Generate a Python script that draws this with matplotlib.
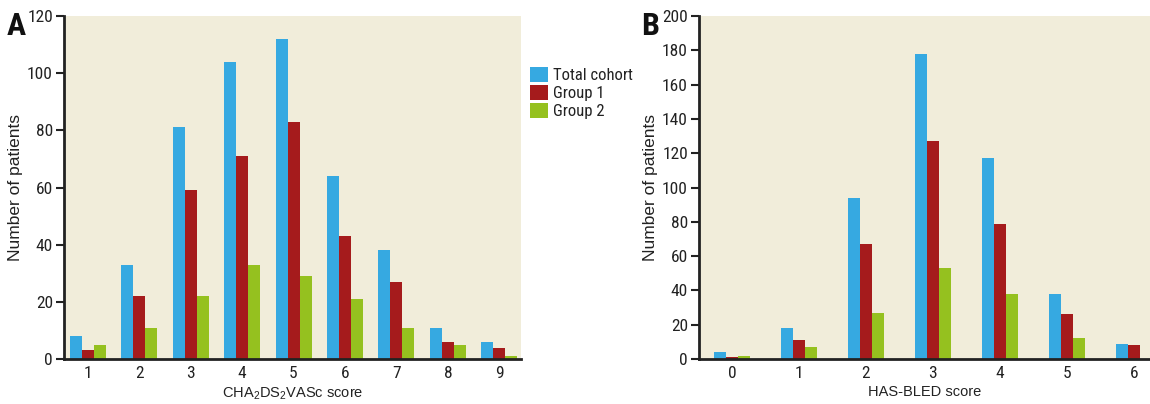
import matplotlib
matplotlib.use("Agg")
import matplotlib.pyplot as plt
from matplotlib import font_manager
import numpy as np

# ---- data ----
cha_scores = [1, 2, 3, 4, 5, 6, 7, 8, 9]
cha_total = [8, 33, 81, 104, 112, 64, 38, 11, 6]
cha_group1 = [3, 22, 59, 71, 83, 43, 27, 6, 4]
cha_group2 = [5, 11, 22, 33, 29, 21, 11, 5, 1]

has_scores = [0, 1, 2, 3, 4, 5, 6]
has_total = [4, 18, 94, 178, 117, 38, 9]
has_group1 = [1, 11, 67, 127, 79, 26, 8]
has_group2 = [2, 7, 27, 53, 38, 12, 0]

series_names = ["Total cohort", "Group 1", "Group 2"]
colors = ["#36A9E1", "#A51B1C", "#95C11F"]
bg = "#F1EDDA"

names = {f.name for f in font_manager.fontManager.ttflist}


def pick(cands):
    for c in cands:
        if c in names:
            return c
    return "DejaVu Sans"


narrow = pick(["Roboto Condensed", "Archivo Narrow", "PT Sans Narrow", "Liberation Sans Narrow",
               "Open Sans Condensed", "Barlow Condensed", "Sofia Sans Condensed", "DejaVu Sans"])
regular = pick(["Liberation Sans", "Arimo", "DejaVu Sans"])

plt.rcParams["mathtext.fontset"] = "custom"
plt.rcParams["mathtext.rm"] = regular
plt.rcParams["mathtext.it"] = regular

fig = plt.figure(figsize=(11.5, 4.04), dpi=100)


def panel(rect, cats, series, ylim, yticks, xlim, width, xlabel, letter, letter_x):
    ax = fig.add_axes(rect)
    ax.set_facecolor(bg)
    x = np.asarray(cats, dtype=float)
    for i, (vals, c, n) in enumerate(zip(series, colors, series_names)):
        ax.bar(x + (i - 1) * width, vals, width=width, color=c, label=n, linewidth=0)
    ax.set_xlim(*xlim)
    ax.set_ylim(*ylim)
    ax.set_yticks(list(yticks))
    ax.set_xticks(x)
    ax.set_xticklabels([str(c) for c in cats], fontfamily=narrow, fontsize=12.5, color="#222222")
    for lab in ax.get_yticklabels():
        lab.set_fontfamily(narrow)
        lab.set_fontsize(12.5)
        lab.set_color("#222222")
    ax.tick_params(axis="x", length=0, pad=5)
    ax.tick_params(axis="y", length=6, width=1.5, pad=2, color="#222222")
    for s in ["top", "right"]:
        ax.spines[s].set_visible(False)
    for s in ["left", "bottom"]:
        ax.spines[s].set_linewidth(2)
        ax.spines[s].set_color("#222222")
    ax.set_xlabel(xlabel, fontfamily=regular, fontsize=10.5, color="#222222", labelpad=3)
    ax.set_ylabel("Number of patients", fontfamily=regular, fontsize=12.5, color="#222222", labelpad=3)
    fig.text(letter_x, 0.972, letter, fontsize=23, fontweight="bold", fontfamily=narrow,
             va="top", ha="left", color="#111111")
    return ax


axA = panel([64 / 1150, 45 / 404, 457 / 1150, 343 / 404], cha_scores,
            [cha_total, cha_group1, cha_group2], (0, 120), range(0, 121, 20),
            (0.54, 9.42), 0.233, r"CHA$_2$DS$_2$VASc score", "A", 7 / 1150)
axB = panel([699 / 1150, 45 / 404, 451 / 1150, 343 / 404], has_scores,
            [has_total, has_group1, has_group2], (0, 200), range(0, 201, 20),
            (-0.49, 6.24), 0.179, "HAS-BLED score", "B", 641 / 1150)

handles, labels = axA.get_legend_handles_labels()
leg = fig.legend(handles, labels, loc="upper left", bbox_to_anchor=(530 / 1150, 1 - 67 / 404),
                 frameon=False, prop={"family": narrow, "size": 12},
                 handlelength=1.05, handleheight=1.05, handletextpad=0.35, labelspacing=0.08,
                 borderaxespad=0, borderpad=0)
for t in leg.get_texts():
    t.set_color("#222222")

fig.savefig("out.png", dpi=100)
